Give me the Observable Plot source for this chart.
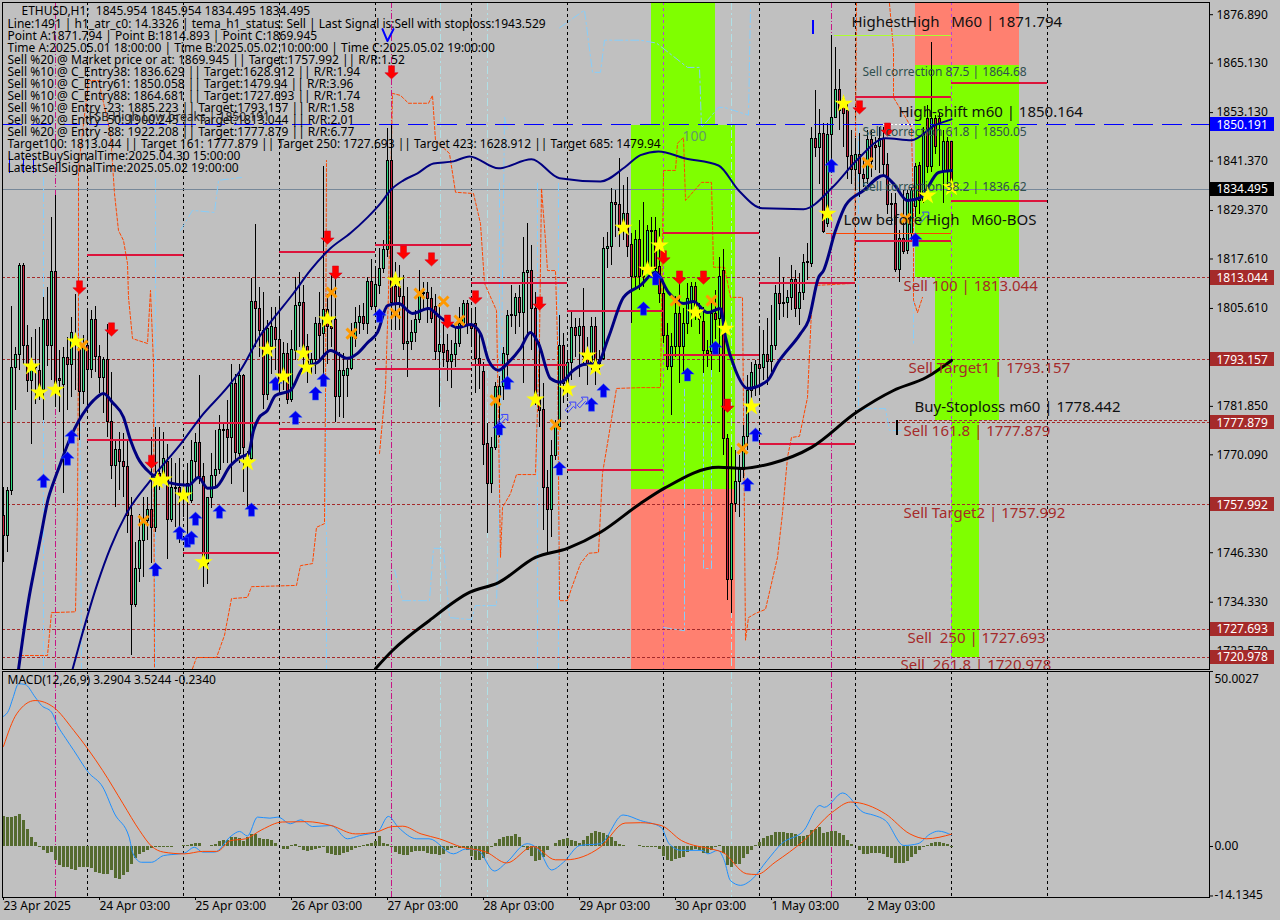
<!DOCTYPE html>
<html><head><meta charset="utf-8">
<script src="https://cdn.jsdelivr.net/npm/d3@7"></script>
<script src="https://cdn.jsdelivr.net/npm/@observablehq/plot@0.6"></script>
<style>html,body{margin:0;padding:0;background:#c0c0c0;overflow:hidden}svg{display:block}#a,#b{width:1280px}</style>
</head><body><div id="a"></div><div id="b"></div>
<script>
// [open, high, low, close] per H1 bar
const ohlc=[[1755.3,1762.2,1744,1750.5],[1750.4,1762.2,1746.4,1761.2],[1761.2,1806,1760.2,1791.2],[1791.2,1796.2,1780.8,1794.2],[1794.2,1816.4,1790.5,1815.9],[1815.9,1816.4,1792.1,1796.6],[1796.4,1801.4,1785.3,1788.1],[1787.9,1798.6,1772.7,1792.1],[1791.7,1800.6,1782.4,1791.2],[1790.5,1801,1783.2,1784.9],
[1785.8,1808.3,1778.4,1802.7],[1802.8,1810.6,1791.5,1796.4],[1796.4,1827.7,1788.1,1814.5],[1814.5,1833,1781.6,1787.3],[1788.5,1795.4,1780.4,1788],[1787,1796.2,1760.6,1793.6],[1793.6,1798.6,1780.8,1791.9],[1791.9,1803.3,1784,1799.7],[1797,1809.1,1785.7,1797.8],[1796.2,1797,1773.5,1785.3],
[1785.3,1799,1782.4,1796.2],[1796.6,1805.1,1782.4,1790.7],[1790.7,1805.1,1788.5,1802.7],[1802.7,1806,1790.1,1793.9],[1793.9,1796.6,1784.9,1788.7],[1788.7,1793.8,1780,1793.1],[1793.1,1801.8,1774.3,1778],[1778,1790.1,1764.2,1767.3],[1767.3,1773.5,1757.4,1771.3],[1771.3,1775.6,1761.4,1768.3],
[1768.3,1775.2,1759.8,1767.1],[1767.1,1773.5,1750.9,1755.3],[1755.3,1759.8,1721.4,1733.7],[1733.7,1748.9,1733.1,1742.4],[1742.4,1755.7,1739.2,1749.1],[1749.1,1759.8,1740.4,1754.1],[1754.1,1759.8,1749.3,1756.7],[1756.7,1774.3,1743.6,1752.3],[1752.3,1776.8,1751.3,1763.8],[1765.4,1776.8,1761.4,1764.2],
[1765,1775.6,1763.4,1769.1],[1768.3,1772.7,1744.8,1754.3],[1754.3,1769.1,1753.7,1762],[1762,1767.9,1752.5,1761.8],[1762,1769.1,1748.5,1760.6],[1760.6,1766.3,1755,1759.8],[1760.6,1767.9,1749.3,1763],[1759,1773.5,1758.2,1768.7],[1768.3,1775.2,1763.8,1773],[1773,1789.3,1763,1764.6],
[1764.6,1768,1737.8,1743.6],[1743.6,1759.8,1738.7,1759.6],[1759.6,1770.3,1757,1765],[1765,1776,1761.8,1766.3],[1766.3,1779.6,1765.4,1776],[1776.1,1777.6,1767.9,1775.8],[1776.1,1783.2,1767.9,1774.2],[1774.2,1792.1,1763,1787.3],[1787.3,1789.7,1768.7,1770.5],[1770.3,1792.1,1767.9,1789.3],
[1789.3,1789.6,1761,1771.8],[1769.5,1771,1757.4,1770.3],[1769.1,1812.8,1768.7,1807.2],[1807.2,1825.9,1796.2,1805.5],[1805.5,1810.8,1793.8,1800.2],[1800.2,1809.5,1781.2,1784.5],[1784.6,1802.7,1783.3,1800.6],[1796.2,1805.9,1789.7,1801],[1800.9,1805.9,1790.5,1798],[1798,1808.5,1784.9,1788.1],
[1788.1,1797.4,1785.7,1794.6],[1794.6,1797,1782.4,1783.4],[1783.4,1800.2,1782.8,1795.5],[1795.4,1813.2,1793,1806.2],[1806.2,1814.4,1796.2,1806.9],[1806.9,1811.2,1791,1794.6],[1796.2,1799.4,1787.3,1791.7],[1791.7,1794.6,1789.7,1793],[1793,1803.5,1789.7,1801.9],[1801.9,1809.5,1793,1799],
[1799.3,1840,1789.7,1805.3],[1805.3,1809.1,1792,1801.2],[1801.2,1814,1796.2,1800.6],[1802.7,1814.2,1778,1784.2],[1784.2,1795,1779.2,1790.5],[1789.3,1794.6,1778.8,1790.5],[1789.3,1793,1784.1,1790.9],[1790.9,1801.9,1790.5,1799.8],[1798.2,1805.9,1796.2,1802],[1802,1806.3,1799.4,1803.6],
[1803.6,1806.7,1800.2,1801.9],[1801.9,1813.2,1799.4,1812.1],[1812.1,1817.6,1805.1,1805.9],[1805.9,1815.6,1804.3,1811.2],[1811,1820.1,1809.1,1815.2],[1815.2,1822.1,1814,1819.9],[1819.8,1849.3,1818,1841.3],[1841.3,1850,1800.2,1806.9],[1810.8,1816.8,1800.2,1806.7],[1810.8,1816,1800.2,1808.3],
[1808.3,1813.6,1795.4,1797],[1797,1810.8,1788.9,1797.4],[1797.4,1802.7,1795.4,1799.7],[1799.7,1805.1,1797.4,1802.8],[1802.8,1814.8,1801.9,1809.3],[1809.4,1812,1805.1,1809],[1809.4,1812,1801.9,1807.8],[1808,1810.8,1801.9,1803.1],[1805.9,1809.1,1793,1795],[1795,1806.7,1781.6,1796.8],
[1796.8,1801.9,1791.3,1794.7],[1795.4,1799.4,1787.9,1792.6],[1792.6,1797.8,1786.1,1794.3],[1794.3,1801.9,1791.3,1797],[1797,1805.9,1796.2,1801.9],[1801.9,1807.5,1801,1806.7],[1806.7,1807.5,1799.4,1801.5],[1801.5,1805.1,1796.2,1800.6],[1801.9,1805.9,1784.9,1793.4],[1793.4,1800,1786,1791.9],
[1790.2,1792.6,1767.5,1772.4],[1772.6,1777.6,1750.9,1762.9],[1762.9,1774.4,1760.6,1771.8],[1771.8,1787.7,1771.1,1786.5],[1784.1,1789,1774.4,1786.5],[1786.5,1796.2,1783.3,1794.6],[1794.4,1805.1,1787.3,1803.7],[1803.7,1811.2,1801.1,1803.9],[1803.8,1809.2,1799.4,1808.2],[1808.2,1811.2,1801.1,1804.5],
[1804.5,1822.9,1787.3,1814.3],[1814.3,1826.2,1799.4,1814.7],[1814.8,1820.9,1795.4,1805.5],[1805.5,1809.6,1782,1783.3],[1783.3,1797.4,1776.8,1780.7],[1780.9,1787.3,1751.7,1762.1],[1762.1,1766.3,1745.7,1756.7],[1756.7,1773.6,1750.1,1769.9],[1769.9,1778.4,1768.7,1776.8],[1776.8,1803.9,1776,1796.6],
[1796.4,1799.5,1782.5,1787.3],[1787.3,1794.6,1784.1,1792.3],[1792.3,1805.1,1788.1,1800.9],[1800.9,1803.1,1793.8,1798.9],[1798.9,1803.1,1788.9,1801.1],[1801.1,1810.4,1792.2,1793.8],[1793.8,1798.6,1786.9,1792.2],[1792.3,1803.5,1790.6,1801.2],[1801.2,1803.5,1786.9,1792.6],[1792.2,1795.4,1790.6,1793],
[1793.4,1822.9,1793,1820.1],[1820.1,1824.1,1815.2,1820.5],[1820.5,1834.7,1816,1831.3],[1831.3,1834.2,1822.9,1830.8],[1830.8,1842,1820.5,1824.5],[1824.5,1835.5,1822.1,1828.6],[1828.6,1837.5,1818,1820.5],[1820.9,1823.7,1801.9,1813.2],[1813.2,1824.5,1810,1822.3],[1822.3,1827,1810,1813.2],
[1813.2,1831.4,1810.8,1814.8],[1814.8,1825.8,1814,1824.3],[1824.1,1827.8,1814.8,1824.4],[1824.5,1827.8,1813.2,1815.2],[1815.6,1824.9,1806.7,1809.2],[1809.2,1811.6,1797,1799],[1799,1801.9,1790.6,1791.4],[1791.4,1799.5,1779.6,1796.2],[1796.2,1808.4,1793.8,1804.3],[1804.3,1811.6,1787.3,1796.2],
[1796.2,1805.5,1789.8,1801.9],[1801.9,1811.6,1799.4,1808],[1807.2,1812,1801.1,1810.8],[1810.9,1812,1802.7,1805.9],[1803.5,1806.7,1799.4,1802.7],[1802.3,1805.9,1789.8,1795.4],[1795.4,1797.8,1791.4,1794.6],[1795,1807.5,1790.6,1804.3],[1804.3,1810,1798,1802.7],[1803,1818,1790,1813.2],
[1814.8,1820,1770,1774],[1774,1775,1734.7,1739.8],[1739.8,1771.8,1731.6,1758.2],[1758.2,1771.1,1756.2,1763.5],[1763.5,1769.9,1754.9,1766.3],[1766.3,1777.2,1764.3,1774.4],[1774.4,1789.3,1771.1,1785.7],[1785.7,1792.5,1783.2,1790],[1786.2,1793,1784.2,1792],[1792,1800.8,1784.5,1791],
[1791.2,1800.2,1788.1,1794.4],[1794.4,1803.2,1786.9,1792.5],[1792.5,1806.3,1790,1796.6],[1796.6,1811.2,1795.4,1809],[1809,1817.9,1802.7,1806.6],[1806.9,1813.2,1803.5,1806.6],[1806.9,1810,1803.1,1808.1],[1808.1,1816,1805.1,1812.5],[1812.5,1814.8,1803.5,1805.5],[1805.5,1814,1801.5,1809.4],
[1809.4,1818.8,1807.5,1816.6],[1816.6,1821.3,1812.4,1816.8],[1816.4,1849.6,1815.6,1846.8],[1846.8,1858.5,1842.3,1844.6],[1844.6,1854,1835.8,1848],[1848,1850.4,1823.7,1824.1],[1826.1,1850.4,1825.3,1847.6],[1847.6,1871.794,1838.3,1851.9],[1851.9,1869,1851.6,1858.7],[1858.7,1863.7,1848.8,1853.6],
[1856.5,1857.3,1844.7,1852.8],[1853.6,1855.3,1837,1842.3],[1842.5,1848.8,1835.8,1839.2],[1839.2,1846.8,1834.2,1842.9],[1842.9,1848,1832.6,1838.3],[1837.9,1841.9,1835,1837.1],[1837.1,1848.8,1835.8,1846.5],[1846.5,1848.8,1837.5,1841.1],[1845.1,1847.2,1839.1,1844.6],[1844.7,1849.6,1838.3,1846.8],
[1846.8,1849.6,1837.5,1840.3],[1840.3,1843.1,1828.5,1830.6],[1830.6,1833.4,1826.1,1831],[1831,1833.4,1814.4,1815],[1815,1824.5,1812,1822.5],[1822.5,1834.2,1818.8,1819.3],[1819.5,1834.2,1818.8,1833.4],[1823.7,1835,1822.1,1834.2],[1830.2,1840.7,1827.8,1839.9],[1840.1,1841.1,1828.5,1831.8],
[1831.8,1849.6,1831,1848],[1851.6,1854.8,1838.3,1839.9],[1839.9,1870.2,1838.7,1851.6],[1851.6,1852.4,1843,1844.7],[1851.6,1853,1840,1850.4],[1838.7,1848.8,1831,1845.9],[1845.9,1847.2,1835,1838.7],[1845.954,1845.954,1834.495,1834.495]];

const lineThick=[[3.75,1718],[4.75,1725.1],[6.25,1734.7],[8,1743.7],[9.25,1750],[11.25,1759.7],[12.25,1762.7],[14.25,1768],[16.75,1774.3],[21,1781.6],[22.5,1783.3],[25,1785],[27.25,1782.8],[30,1779.2],[31.75,1773.6],[33.5,1769.5],[36.75,1765.6],[41,1763.4],[46.25,1762.7],[48.75,1764.6],[51,1762],[53,1762.2],[56.75,1767.5],[59.25,1769.5],[61.25,1770.4],[62.5,1776],[63.75,1778.9],[66,1780.9],[68,1784.5],[71.75,1785.7],[74.75,1791],[78.5,1792.5],[81.75,1795.4],[86,1793.5],[88.5,1794.7],[91,1797.3],[93.5,1799.8],[96,1806.3],[98.75,1806.8],[102.25,1804.4],[106.25,1805.6],[109.25,1803.4],[113.5,1801],[116.75,1801.7],[119.25,1799.5],[121.25,1793],[123.75,1790.6],[126,1792.3],[129.25,1795.9],[131.75,1799.8],[133.75,1797.1],[136.75,1788.6],[139.25,1787.7],[142.5,1790.6],[145,1792],[148.5,1792.3],[151.25,1798.6],[155,1808.3],[159.25,1811.2],[163,1814.4],[166.25,1809.5],[170,1806.8],[172.5,1807.3],[176,1804.6],[179.25,1805.6],[180.5,1798.6],[183,1790.6],[186,1786.2],[191,1788.1],[193.5,1792.3],[199.25,1799.5],[201.25,1802.7],[203.75,1813.1],[205,1814.8],[208,1824.5],[210.5,1830.6],[215,1834.2],[220,1837.9],[222.5,1835.9],[226,1831.8],[229.25,1832.5],[233.75,1838.6],[237,1839.1]];
const lineSlow=[[17.25,1718],[19.25,1725.1],[23.5,1738.9],[26.75,1747.6],[30.5,1755.4],[36.75,1763.9],[45,1773.6],[49.25,1779.2],[56,1786.5],[59.25,1790.6],[64.25,1799.1],[67.5,1803.2],[72.5,1809.3],[76.75,1814.9],[81.75,1820.2],[86.75,1823.9],[91,1827.7],[94.25,1831.1],[96.75,1834.3],[100,1836.7],[103.5,1838.4],[107.5,1840.8],[112.5,1841.3],[116.5,1842.5],[123.75,1839.6],[132,1841.8],[139,1837.2],[149.25,1836.4],[155.25,1839.8],[159.25,1842.8],[163.75,1843.7],[170.5,1842],[178.75,1840.3],[183.75,1834.3],[189.75,1829.9],[200,1829.7],[207.25,1835],[213.25,1841.5],[220.5,1846.9],[227,1846.4],[232.75,1850],[237,1851.5]];
const lineBlack=[[93,1718.2],[97.25,1722.6],[106.5,1729.9],[116.5,1736.7],[123.75,1739.1],[133,1745.2],[141,1747.4],[149.25,1751.3],[159.25,1758.3],[165.25,1762],[178.75,1767.1],[184.75,1766.8],[192,1768],[202,1771.9],[213.25,1780.4],[222.5,1785.7],[230.75,1788.9],[237,1793]];
const orangeSteps=[[3.75,1719],[4.25,1721.4],[11,1721.4],[12,1731.8],[18,1732],[18.5,1757.3],[18.75,1797.8],[18.75,1839.8],[21.25,1860.9],[23.75,1860.9],[26.75,1848.1],[27.75,1833.5],[28.75,1824.5],[30,1822.1],[31,1816.5],[31.25,1808.3],[32.25,1798.3],[36,1797.1],[36.75,1810],[37.5,1792.3],[37.75,1718.2],[null,null],
[47.25,1718.2],[48.25,1720.9],[53.25,1720.9],[55.25,1726.3],[57,1735.2],[61,1735.5],[62,1738.1],[73.25,1738.4],[74.25,1743.2],[77.25,1743.7],[78.25,1752.5],[80.25,1753.4],[80.5,1785],[80.75,1841.5],[null,null],
[94,1770.4],[95.5,1786.4],[96.25,1809.3],[97.25,1857.8],[99.25,1857.3],[101.25,1855.4],[106.25,1855.4],[107.25,1857.3],[108,1846.4],[111.5,1843.2],[113,1833.8],[117.5,1833.5],[119.25,1826.2],[120.25,1811.7],[123.25,1805.1],[123.75,1778.4],[124.25,1745.2],[124.75,1757.3],[126.75,1760.7],[128.25,1765.3],[133,1765.3],[134,1797.8],[134.5,1834.7],[135.5,1822.1],[136,1814.8],[138,1814.8],[138.5,1797.8],[139,1734.7],[141,1734.7],[142,1737.7],[144.25,1743.7],[146.25,1746.2],[148.75,1746.4],[149.75,1765.6],[151.25,1774.3],[153.25,1786.2],[159.25,1786.4],[164.25,1786.4],[165,1839.1],[168,1839.1],[168.5,1845.7],[170,1847.1],[170.5,1831.8],[174.5,1836.2],[177,1836.2],[177.5,1815.6],[180.25,1815.6],[181.75,1808.3],[184.75,1808.3],[185.5,1725.1],[186.25,1730.6],[188,1731.6],[190.5,1732.6],[193.5,1745.2],[194.75,1755.9],[196,1769.5],[197,1774.3],[199,1774.6],[201,1784],[202,1805.1],[203,1811.2],[212.75,1811.7],[213.25,1879.6],[null,null],
[221.5,1879.6],[222.5,1868.2],[222.5,1856.8],[227,1849.5],[227.5,1828.7],[227.5,1807.6],[228.5,1804.6],[229.75,1808.3]];
const skySteps=[[10,1837.4],[10,1718],[null,null],[18.75,1836],[19.5,1718],[null,null],[38,1837],[38,1718],[null,null],
[44.25,1824.5],[47.25,1829.4],[52.75,1828.9],[53.75,1836.7],[59.5,1837.4],[null,null],[80.75,1785],[80.75,1718],[null,null],
[97.75,1742.2],[99.75,1734.7],[106.5,1734.7],[107.5,1747.4],[110,1747.4],[111.5,1730.6],[117,1730.1],[118,1733.5],[123.25,1733.5],[124.25,1773.6],[125.25,1852],[126,1848.8],[null,null],
[124,1836],[124,1757],[null,null],[133.5,1836],[133.5,1718],[null,null],[138.75,1836],[138.75,1718],[null,null],
[139,1873.7],[145.25,1878],[147.25,1862.9],[149.25,1862.9],[150.25,1870.7],[159.25,1870.7],[163.25,1870],[171,1864.1],[174,1864.1],[174.5,1849.5],[178.75,1854.4],[180.25,1854.4],[186.25,1852.5],[186.75,1878.6],[null,null],
[165,1728.2],[170.25,1727.4],[170.25,1786],[null,null],[175,1795],[175,1742.5],[177,1742.5],[177,1795],[null,null],
[213.75,1850],[213.75,1781.3],[220.5,1781.3],[221.5,1776],[224.5,1776],[null,null],[227.5,1812],[227.5,1797]];

const starBars=[7,9,13,18,38.5,40,45,50,61,66,70,75,75.75,81,98,133,141,146,148,155,161,164,173,180.5,187,206,210,231,237];
const starPrices=[1791.5,1785.2,1785.9,1797.6,1763.8,1764.1,1760.2,1744,1768.2,1795.6,1789.1,1794.7,1791.3,1802.9,1812.4,1783.5,1786.1,1794.2,1791.3,1825.2,1815,1820.9,1804.6,1800.7,1781.8,1828.6,1855.3,1833,1835];
const crossBars=[19.75,35,82,87,98,104,110,114,123,138,168,177,184.75,216,225.5];
const crossPrices=[1796.6,1754.1,1809.5,1799.5,1804.4,1809.2,1807.3,1802.7,1783.3,1777.4,1807.5,1807.5,1771.6,1841,1827.4];
const downBars=[19,27,37,81,83,97,100,107,111,118,134,165,169,175,181,214,221];
const downPrices=[1810.7,1800.5,1768.4,1822.8,1814.3,1862.9,1819.2,1817.5,1802.4,1808.3,1806.8,1818,1813.1,1813.1,1782,1854.4,1849];
const upBars=[10,16,17,38,44,46,47,48,54,62,68,73,78,80,94,124,126,139,147,150,160,163,171,178,186,188,207,228];
const upPrices=[1763.8,1769.2,1774.5,1742.3,1751.2,1749.3,1750,1754.6,1756.3,1756.8,1787.4,1779.1,1785,1788.3,1803.9,1776.5,1787.6,1766.8,1782.3,1785.7,1805.6,1812.9,1789.6,1796.1,1762.9,1775,1840.3,1822.3];
const hollowBars=[124.75,141.75,144.75,230];
const hollowPrices=[1778.6,1781.6,1782.8,1827.7];

const segStart=[21,21,45,45,69,69,93,93,117,117,141,141,165,165,189,189,213,213,237,237];
const segEnd=[45,45,69,69,93,93,117,117,141,141,165,165,189,189,213,213,237,237,261,261];
const segPrice=[1818.5,1773.6,1777.8,1746.2,1819.2,1776.3,1820.9,1790.8,1811.7,1791.9,1804.9,1766.5,1823.9,1794.3,1811.9,1772.6,1856.9,1821.9,1860.3,1831.8];

const zones=[["#7fff00",162,178,1850,1879.85],["#7fff00",157,183,1761.6,1850],["#ff8070",157,183,1718,1761.6],["#ff8070",228,254,1864.68,1879.85],["#7fff00",228,254,1813.044,1864.68],["#7fff00",233,249,1778.44,1813.044],["#7fff00",237,244,1720.978,1778.44]];

const priceTicks=[1876.89,1865.13,1853.13,1841.37,1829.37,1817.61,1805.61,1781.85,1770.09,1746.33,1734.33,1722.57];
const targetLevels=[1813.044,1793.157,1777.879,1757.992,1727.693,1720.978];
const tagPrices=[1850.191,1834.495,1813.044,1793.157,1777.879,1757.992,1727.693,1720.978];
const tagColors=["#0000ff","#000000","#a52a2a","#a52a2a","#a52a2a","#a52a2a","#a52a2a","#a52a2a"];
const midnightBars=[21,45,69,93,117,141,165,189,213,237,261];
const magentaBars=[13,97,207];
const paleBars=[109.25,121,182];
const dayBars=[0,24,48,72,96,120,144,168,192,216];
const dayLabels=["23 Apr 2025","24 Apr 03:00","25 Apr 03:00","26 Apr 03:00","27 Apr 03:00","28 Apr 03:00","29 Apr 03:00","30 Apr 03:00","1 May 03:00","2 May 03:00"];

const labelText=["HighestHigh   M60 | 1871.794","High-shift m60 | 1850.164","Low before High   M60-BOS","Buy-Stoploss m60 | 1778.442"];
const labelBar=[212,223.75,210,227.75];
const labelPrice=[1875,1853.2,1827,1781.6];
const sellText=["Sell 100 | 1813.044","Sell Target1 | 1793.157","Sell 161.8 | 1777.879","Sell Target2 | 1757.992","Sell  250 | 1727.693","Sell  261.8 | 1720.978"];
const sellBar=[225,226.25,225,225,226,224.25];
const sellPrice=[1811,1791,1775.8,1755.9,1725.5,1719];
const corrText=["Sell correction 87.5 | 1864.68","Sell correction 61.8 | 1850.05","Sell correction 38.2 | 1836.62"];
const corrPrice=[1862.9,1848.3,1835];
const headerTitle="ETHUSD,H1:  1845.954 1845.954 1834.495 1834.495";
const headerLines=["Line:1491 | h1_atr_c0: 14.3326 | tema_h1_status: Sell | Last Signal is:Sell with stoploss:1943.529",
"Point A:1871.794 | Point B:1814.893 | Point C:1869.945",
"Time A:2025.05.01 18:00:00 | Time B:2025.05.02 10:00:00 | Time C:2025.05.02 19:00:00",
"Sell %20 @ Market price or at: 1869.945 || Target:1757.992 || R/R:1.52",
"Sell %10 @ C_Entry38: 1836.629 || Target:1628.912 || R/R:1.94",
"Sell %10 @ C_Entry61: 1850.058 || Target:1479.94 || R/R:3.96",
"Sell %10 @ C_Entry88: 1864.681 || Target:1727.693 || R/R:1.74",
"Sell %10 @ Entry -23: 1885.223 || Target:1793.157 || R/R:1.58",
"Sell %20 @ Entry -50: 1900.245 || Target:1813.044 || R/R:2.01",
"Sell %20 @ Entry -88: 1922.208 || Target:1777.879 || R/R:6.77",
"Target100: 1813.044 || Target 161: 1777.879 || Target 250: 1727.693 || Target 423: 1628.912 || Target 685: 1479.94",
"LatestBuySignalTime:2025.04.30 15:00:00",
"LatestSellSignalTime:2025.05.02 19:00:00"];

const macdHist=[8.6,8.4,8.4,8.6,9.1,7.4,4.9,2.7,1.1,-.4,-1.1,-2.1,-1.6,-4,-5.4,-5.9,-6.1,-6.5,-6.9,-6.1,-6.1,-5.9,-6.4,-7.3,-7.8,-8,-8,-6.9,-9.2,-9.5,-8.3,-7.3,-5,-3.5,-2.4,-1.6,-1.1,-.7,-.4,-.2,-.2,-.2,-.3,-.1,0,.2,.4,
.6,1,.8,0,.1,.3,.6,1.3,1.6,1.7,2.7,2.7,2.2,1.5,2.5,3.4,3.4,2.2,2.1,2,1.8,1,.1,-.8,-.9,.4,.6,-.4,-1.1,-1.3,-1.2,-.8,-.5,-.3,-2.1,-2.3,-2.6,-2.6,-1.9,-1.6,-1.1,-.6,-.2,.2,.5,1,1.3,2.9,1,.6,-.2,-1.7,-2.3,-2.6,-2.6,-1.8,-1.5,-1.5,-1.5,-1.9,-2.3,-2.3,-2.5,-2.3,-1.1,-.7,-.4,-.5,-.7,-1.1,-2.9,-4,-4,-3.5,-2.3,-.2,1,1.9,2.7,2.9,2.9,3.4,2.7,-.2,-1.1,-2.9,-4.2,-4,-3,-1.1,0,1,1.7,2.1,2.2,1.7,1.3,1,1.7,3,3.6,4.4,4.1,3.8,3.1,2.7,1.5,.6,.2,.1,0,0,.2,-.2,-.2,-.2,-.4,-.9,-2.9,-4,-4.2,-3.6,-3.5,-3,-1.7,-1.1,-.8,-1.1,-2.1,-2.1,-1.1,-.2,.3,-2.1,-5.4,-5.9,-5.2,-5.1,-3.5,-2.3,-1,.3,1.2,2.4,2.8,3.1,3.9,4.1,4.1,3.8,3.7,3.4,3,2.9,3.1,4.6,5,5.5,3.6,4,4.2,4.3,3.8,3.1,1.7,.5,0,-1.1,-2.3,-2.3,-2.1,-2.1,-2.1,-2.3,-3,-3.3,-4.8,-4.8,-4.8,-4.2,-3.2,-2.3,-1.1,-.4,.3,1,1.2,1.1,.8,.6,-.234];
const macdLine=[[0,37.2],[1.3,38.9],[2.3,42.2],[3.8,46.5],[5.4,46.3],[7.9,42.7],[9.5,40.3],[12,38.4],[13.5,34.6],[15.6,30.8],[17.6,27.4],[21.2,21.2],[24.8,17],[27.8,9.3],[31.4,2.7],[32.4,-2.1],[34.5,-4.5],[37,-4.5],[40,-2.6],[42.1,-2.3],[45.2,-1.9],[47.7,-.2],[49.8,-1.6],[52.8,-1.6],[56.9,3],[59,4.3],[61,3],[63.5,8.4],[66.6,8.1],[68.6,8.4],[71.7,6.5],[74.3,7.6],[77.3,5.7],[81.9,6],[86,2.2],[89,3.1],[93.6,4.3],[96.2,8.6],[98.7,5.5],[103.3,2.2],[106.4,2.2],[112.5,-2.1],[115.6,-.7],[118.6,-1.1],[122.7,-7],[125.8,-4.5],[130.9,.8],[133.9,-1.1],[137,-6.7],[140,-4.5],[144.1,.3],[149.2,.8],[154.9,9],[159.3,7.4],[164.4,5.5],[166.4,.8],[169.5,-1.1],[174.6,-1.1],[176.1,-2.1],[178.6,-1.1],[180.2,-4],[181.7,-9.7],[184.3,-11.1],[186.8,-9.7],[190.9,-4],[194.5,.8],[200.1,4.6],[204.1,11.7],[205.2,11.2],[209.8,15.3],[214.9,9.8],[217.4,9],[220.5,7.4],[225.1,.3],[228.6,.8],[231.7,3.6],[233.7,4.4],[237,3.2904]];
const signalLine=[[0,28.6],[3.3,37.9],[7.9,41.7],[12.5,39.8],[17.6,33.1],[24.8,21.7],[29.9,12.2],[34,4.6],[37,.1],[40,-1.6],[45.2,-2.1],[49.8,-1.4],[53.3,-1.4],[56.9,1.7],[60.5,2.2],[64.6,4.8],[69.7,7],[75.8,7.1],[81.9,6],[88,3.6],[93.1,4.1],[97.2,5.7],[99.8,5.8],[104.4,3.6],[109,2.2],[114.6,-.2],[120.7,-1.6],[125.8,-4.7],[132.4,0],[138,-3.8],[140.6,-3.8],[149.2,-.2],[155.4,6.7],[159.3,6.8],[164.4,6],[169.5,1.7],[177.6,-.9],[179.7,-1.6],[185.8,-7.8],[188.3,-8],[192.9,-4.5],[200.1,1.7],[207.2,9.8],[211.8,12.7],[220.5,9.3],[226.6,3.6],[230.7,2.2],[237,3.5244]];
const macdTicks=[50.0027,0,-14.1345];
const macdTickLabels=["50.0027","0.00","-14.1345"];

const FONT='"Noto Sans"';
const arrowSym=(dir)=>({draw(c,size){const s=Math.sqrt(size)/2*dir;
  c.moveTo(0,-s);c.lineTo(s,-0.05*s);c.lineTo(0.45*s,-0.05*s*1);c.lineTo(0.45*s,s);c.lineTo(-0.45*s,s);c.lineTo(-0.45*s,-0.05*s);c.lineTo(-s,-0.05*s);c.closePath();}});
const hollowSym={draw(c,size){const s=Math.sqrt(size)/2;
  c.moveTo(s,-s);c.lineTo(s,0.2*s);c.lineTo(0.55*s,-0.2*s);c.lineTo(-0.5*s,s);c.lineTo(-s,0.5*s);c.lineTo(0.1*s,-0.55*s);c.lineTo(-0.2*s,-s);c.closePath();}};
const zip=(a,b)=>a.map((v,k)=>[v,b[k]]);
const rows=ohlc.map((r,i)=>({i,o:r[0],h:r[1],l:r[2],c:r[3]}));
const crisp={shapeRendering:"crispEdges"};
const xd=[-0.25,301.5];

const pricePane=Plot.plot({width:1280,height:670,marginTop:2,marginBottom:1,marginLeft:2,marginRight:71,
 style:{background:"none",fontFamily:FONT,color:"black"},
 x:{domain:xd,axis:null},y:{domain:[1718,1879.85],axis:null},
 marks:[
  Plot.rect(zones,{x1:d=>d[1],x2:d=>d[2],y1:d=>d[3],y2:d=>d[4],fill:d=>d[0],...crisp}),
  Plot.ruleY(targetLevels,{stroke:"#a52a2a",strokeWidth:1,strokeDasharray:"3,2",...crisp}),
  Plot.ruleY([1778.442],{x1:224,x2:301.5,stroke:"#a52a2a",strokeDasharray:"3,2",...crisp}),
  Plot.ruleX(midnightBars,{stroke:"black",strokeDasharray:"3,3",...crisp}),
  Plot.ruleX(magentaBars,{stroke:"#c71585",strokeDasharray:"6,2,1,2",...crisp}),
  Plot.ruleX([165,237],{stroke:"#ba40d8",strokeDasharray:"3,3",...crisp}),
  Plot.ruleX(paleBars,{stroke:"#b0e0e6",strokeDasharray:"8,3,2,3",...crisp}),
  Plot.ruleY([1834.495],{stroke:"#778899",...crisp}),
  Plot.line(skySteps,{x:d=>d[0],y:d=>d[1],stroke:"#87cefa",strokeWidth:1,strokeDasharray:"8,3,2,3",curve:"linear",clip:true}),
  Plot.line(orangeSteps,{x:d=>d[0],y:d=>d[1],stroke:"#ff4500",strokeWidth:1,strokeDasharray:"3,2",curve:"linear",clip:true}),
  Plot.ruleX(rows,{x:"i",y1:"l",y2:"h",stroke:"black",strokeWidth:1,...crisp}),
  Plot.rect(rows,{x1:d=>d.i-.25,x2:d=>d.i+.25,y1:"o",y2:"c",fill:d=>d.c>=d.o?"#2fdc82":"#c8203c",stroke:"black",strokeWidth:1,...crisp}),
  Plot.ruleY([1850.191],{stroke:"#0000ff",strokeDasharray:"20,9",strokeWidth:1,...crisp}),
  Plot.ruleY(segPrice,{x1:(d,k)=>segStart[k],x2:(d,k)=>segEnd[k],y:d=>d,stroke:"#dc143c",strokeWidth:2,...crisp}),
  Plot.ruleY([1823.9],{x1:205.75,x2:237,stroke:"#ff4500",strokeWidth:1,...crisp}),
  Plot.ruleY([1871.794],{x1:207.75,x2:237,stroke:"#adff2f",strokeWidth:1,...crisp}),
  Plot.ruleY([1850.2],{x1:220,x2:227.5,stroke:"white",strokeDasharray:"2,2",...crisp}),
  Plot.line([[94.75,1873.4],[96,1870.5],[97.5,1873.4]],{x:d=>d[0],y:d=>d[1],stroke:"#0000ff",strokeWidth:2}),
  Plot.ruleX([202.25],{y1:1872,y2:1875.5,stroke:"#0000ff",strokeWidth:2,...crisp}),
  Plot.ruleX([1.5,5,7.5],{y1:1838.4,y2:1841.9,stroke:"#0000ff",strokeWidth:1,...crisp}),
  Plot.ruleX([223.25],{y1:1774.8,y2:1778.4,stroke:"black",strokeWidth:2,...crisp}),
  Plot.line(lineSlow,{x:d=>d[0],y:d=>d[1],stroke:"#000080",strokeWidth:2,curve:"monotone-x",clip:true}),
  Plot.line(lineThick,{x:d=>d[0],y:d=>d[1],stroke:"#000080",strokeWidth:3,curve:"monotone-x",clip:true}),
  Plot.line(lineBlack,{x:d=>d[0],y:d=>d[1],stroke:"black",strokeWidth:3,curve:"monotone-x",clip:true}),
  Plot.dot(zip(downBars,downPrices),{x:d=>d[0],y:d=>d[1],r:7.5,symbol:arrowSym(-1),fill:"#ff0000",stroke:"#d00020",strokeWidth:.5}),
  Plot.dot(zip(upBars,upPrices),{x:d=>d[0],y:d=>d[1],r:7.5,symbol:arrowSym(1),fill:"#0000ee",stroke:"#3060ff",strokeWidth:.5}),
  Plot.dot(zip(hollowBars,hollowPrices),{x:d=>d[0],y:d=>d[1],r:6,symbol:hollowSym,fill:"none",stroke:"#3a40ff",strokeWidth:1}),
  Plot.dot(zip(crossBars,crossPrices),{x:d=>d[0],y:d=>d[1],r:4.6,symbol:"times",stroke:"#ff9a00",strokeWidth:3,fill:"none"}),
  Plot.dot(zip(starBars,starPrices),{x:d=>d[0],y:d=>d[1],r:5.8,symbol:"star",fill:"#ffff00",stroke:"none"}),
  Plot.text([headerTitle],{text:d=>d,frameAnchor:"top-left",dx:19,dy:4,fontSize:12,textAnchor:"start",lineAnchor:"top",fill:"black"}),
  Plot.text([headerLines.join("\n")],{text:d=>d,frameAnchor:"top-left",dx:5,dy:16.5,fontSize:12,lineHeight:1,textAnchor:"start",lineAnchor:"top",fill:"black"}),
  Plot.text(["FSB High Low breaks | 1850.191"],{text:d=>d,x:21.25,y:1852,fontSize:12,textAnchor:"start",fill:"#222"}),
  Plot.text(["100"],{text:d=>d,x:169.75,y:1847.4,fontSize:14,textAnchor:"start",fill:"#5f9a6a"}),
  Plot.text(corrText,{text:d=>d,x:214.75,y:(d,k)=>corrPrice[k],fontSize:12,textAnchor:"start",fill:"#2f4f4f"}),
  Plot.text(labelText,{text:d=>d,x:(d,k)=>labelBar[k],y:(d,k)=>labelPrice[k],fontSize:15,textAnchor:"start",fill:"#101010"}),
  Plot.text(sellText,{text:d=>d,x:(d,k)=>sellBar[k],y:(d,k)=>sellPrice[k],fontSize:15,textAnchor:"start",fill:"#a52a2a",clip:true}),
  Plot.axisY({anchor:"right",ticks:priceTicks,tickFormat:d=>d.toFixed(3),tickSize:3,tickPadding:4,fontSize:12,label:null,fill:"black"}),
  Plot.rect(tagPrices,{x1:301.75,x2:317.75,y1:d=>d-1.75,y2:d=>d+1.75,fill:(d,k)=>tagColors[k],...crisp}),
  Plot.text(tagPrices,{text:d=>d.toFixed(3),x:303.25,y:d=>d,fill:"white",fontSize:12,textAnchor:"start"}),
  Plot.frame({stroke:"black",strokeWidth:1,...crisp})
 ]});
document.getElementById("a").append(pricePane);

const macdPane=Plot.plot({width:1280,height:250,marginTop:1,marginBottom:23,marginLeft:2,marginRight:71,
 style:{background:"none",fontFamily:FONT,color:"black"},
 x:{domain:xd},y:{domain:[-14.57,50],axis:null},
 marks:[
  Plot.ruleX(midnightBars,{stroke:"black",strokeDasharray:"3,3",...crisp}),
  Plot.ruleX(magentaBars,{stroke:"#c71585",strokeDasharray:"6,2,1,2",...crisp}),
  Plot.ruleX(paleBars,{stroke:"#b0e0e6",strokeDasharray:"8,3,2,3",...crisp}),
  Plot.rect(macdHist,{x1:(d,k)=>k-.375,x2:(d,k)=>k+.375,y1:0,y2:d=>d,fill:"#556b2f",...crisp}),
  Plot.line(macdLine,{x:d=>d[0],y:d=>d[1],stroke:"#1e90ff",strokeWidth:1,curve:"monotone-x"}),
  Plot.line(signalLine,{x:d=>d[0],y:d=>d[1],stroke:"#ff4500",strokeWidth:1,curve:"monotone-x"}),
  Plot.text(["MACD(12,26,9) 3.2904 3.5244 -0.2340"],{text:d=>d,frameAnchor:"top-left",dx:5,dy:4,fontSize:12,textAnchor:"start",lineAnchor:"top",fill:"black"}),
  Plot.axisX({anchor:"bottom",ticks:dayBars,tickFormat:d=>dayLabels[dayBars.indexOf(d)],tickSize:3,tickPadding:1,fontSize:12,textAnchor:"start",label:null,fill:"black"}),
  Plot.axisY({anchor:"right",ticks:macdTicks,tickFormat:()=>"",tickSize:3,label:null}),
  Plot.text([0],{text:()=>macdTickLabels[0],x:302.75,y:macdTicks[0],lineAnchor:"top",dy:3,fontSize:12,textAnchor:"start",fill:"black"}),
  Plot.text([1],{text:()=>macdTickLabels[1],x:302.75,y:macdTicks[1],lineAnchor:"middle",fontSize:12,textAnchor:"start",fill:"black"}),
  Plot.text([2],{text:()=>macdTickLabels[2],x:302.75,y:macdTicks[2],lineAnchor:"bottom",dy:3,fontSize:12,textAnchor:"start",fill:"black"}),
  Plot.frame({stroke:"black",strokeWidth:1,...crisp})
 ]});
document.getElementById("b").append(macdPane);
</script></body></html>
